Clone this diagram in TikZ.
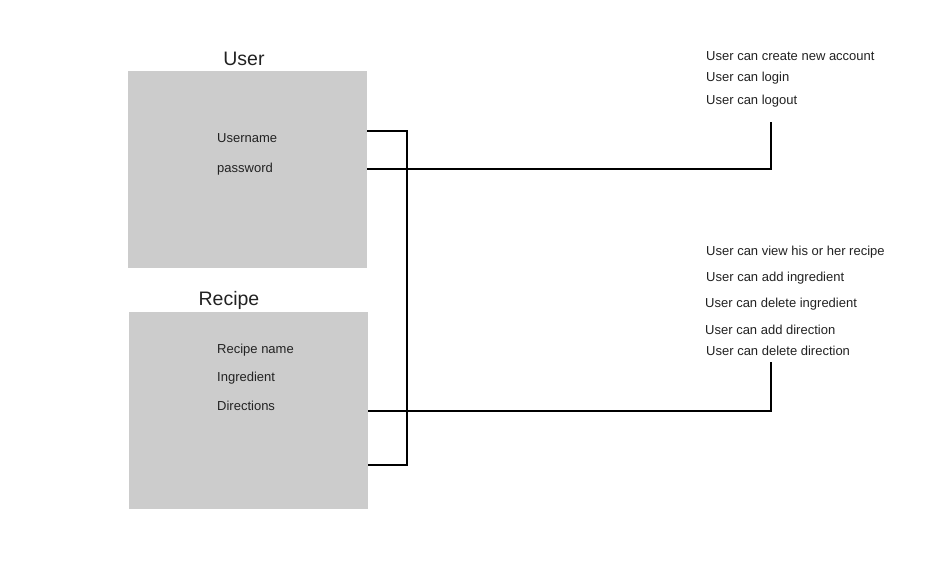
\documentclass[tikz,border=0pt]{standalone}
\usepackage{fontspec}
\setmainfont{Liberation Sans}
\definecolor{boxgray}{HTML}{CCCCCC}
\definecolor{txt}{HTML}{222222}
\begin{document}
\begin{tikzpicture}[x=1pt,y=-1pt,
  entity/.style={fill=boxgray,draw=none,minimum width=239pt,minimum height=197pt,inner sep=0pt,anchor=north west},
  ttl/.style={font=\fontsize{19.5}{22}\selectfont,text=txt,inner sep=0pt},
  attr/.style={font=\fontsize{13}{15}\selectfont,text=txt,inner sep=0pt,anchor=west},
  conn/.style={line width=2pt,black}]
\useasboundingbox[fill=white] (0,0) rectangle (943,577);
\node[entity] (user) at (128,71) {};
\node[entity] (recipe) at (129,312) {};
\node[ttl] (usert) at (244,59) {User};
\node[ttl] (recipet) at (229,300) {Recipe};
\node[attr] (uname) at (217,138.5) {Username};
\node[attr] (pwd) at (217,169.5) {password};
\node[attr] (rname) at (217,350.5) {Recipe name};
\node[attr] (ingr) at (217,378.5) {Ingredient};
\node[attr] (dirs) at (217,405.5) {Directions};
\node[attr] (r1) at (706,56.5) {User can create new account};
\node[attr] (r2) at (706,78.5) {User can login};
\node[attr] (r3) at (706,101.5) {User can logout};
\node[attr] (s1) at (706,252.5) {User can view his or her recipe};
\node[attr] (s2) at (706,278.5) {User can add ingredient};
\node[attr] (s3) at (705,304.5) {User can delete ingredient};
\node[attr] (s4) at (705,329.5) {User can add direction};
\node[attr] (s5) at (706,350.5) {User can delete direction};
\coordinate (ua) at (367,131);
\coordinate (ub) at (367,169);
\coordinate (ra) at (368,411);
\coordinate (rb) at (368,465);
\coordinate (bus) at (407,131);
\coordinate (bus2) at (407,465);
\coordinate (c1) at (771,169);
\coordinate (c1t) at (771,122);
\coordinate (c2) at (771,411);
\coordinate (c2t) at (771,362);
\draw[conn] (ua) -- (bus) -- (bus2) -- (rb);
\draw[conn] (ub) -- (c1) -- (c1t);
\draw[conn] (ra) -- (c2) -- (c2t);
\end{tikzpicture}
\end{document}
